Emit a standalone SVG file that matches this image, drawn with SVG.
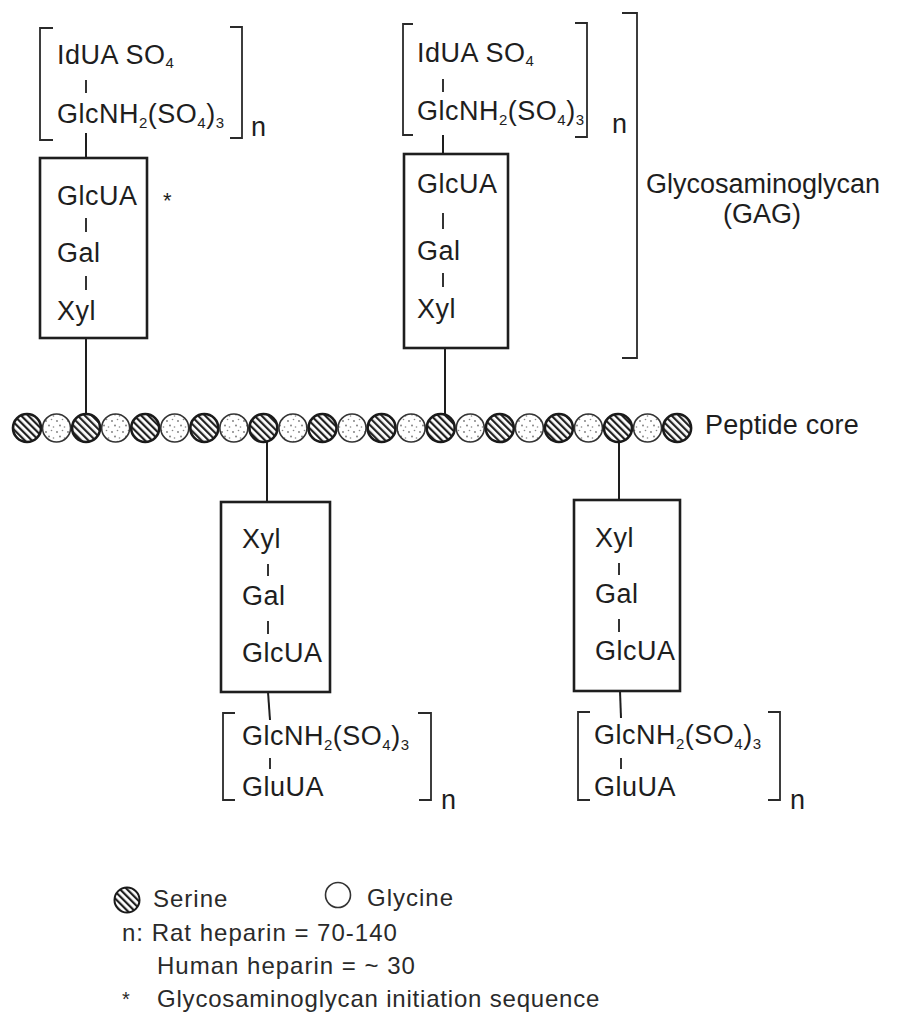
<svg xmlns="http://www.w3.org/2000/svg" width="901" height="1015" viewBox="0 0 901 1015">
<style>
  .t{font-family:"Liberation Sans",Arial,sans-serif;font-size:27px;letter-spacing:0.5px;fill:#1e1e1e}
  .lg{font-family:"Liberation Sans",Arial,sans-serif;font-size:24px;letter-spacing:1px;fill:#2a2a2a}
  .sub{font-size:15px}
  .ln{stroke:#1e1e1e;stroke-width:2;fill:none}
  .bond{stroke:#1e1e1e;stroke-width:1.8}
  .box{stroke:#1e1e1e;stroke-width:2.6;fill:none}
  .br{stroke:#2a2a2a;stroke-width:1.8;fill:none}
  .ser{fill:url(#hatch);stroke:#1a1a1a;stroke-width:2.6}
  .gly{fill:url(#dots);stroke:#333;stroke-width:1.6}
</style>
<defs>
  <pattern id="hatch" patternUnits="userSpaceOnUse" width="5" height="5" patternTransform="rotate(-45)">
    <rect width="5" height="5" fill="#fff"/>
    <rect width="2.2" height="5" fill="#222"/>
  </pattern>
  <pattern id="dots" patternUnits="userSpaceOnUse" width="11" height="11">
    <rect width="11" height="11" fill="#fff"/>
    <circle cx="2" cy="3" r="0.9" fill="#777"/>
    <circle cx="7.5" cy="1.5" r="0.8" fill="#888"/>
    <circle cx="5" cy="7.5" r="0.9" fill="#777"/>
    <circle cx="9.5" cy="9" r="0.8" fill="#888"/>
  </pattern>
</defs>

<!-- connectors -->
<g id="connectors">
  <line class="ln" x1="86" y1="338" x2="86" y2="414"/>
  <line class="ln" x1="445" y1="348" x2="445" y2="414"/>
  <line class="ln" x1="267" y1="442" x2="267" y2="502"/>
  <line class="ln" x1="619" y1="442" x2="619" y2="500"/>
  <line class="ln" x1="86" y1="133" x2="86" y2="158"/>
  <line class="ln" x1="443" y1="135" x2="443" y2="154"/>
  <line class="ln" x1="268" y1="692" x2="270" y2="720"/>
  <line class="ln" x1="620" y1="691" x2="621" y2="718"/>
</g>

<!-- top-left GAG chain -->
<g id="gag-top-left">
  <path class="br" d="M53,28 H40 V140 H53"/>
  <path class="br" d="M230,27 H242 V138 H230"/>
  <text class="t" x="251" y="136" style="letter-spacing:0">n</text>
  <text class="t" x="57" y="64">IdUA SO<tspan class="sub" dy="4">4</tspan></text>
  <line class="bond" x1="86" y1="80" x2="86" y2="93"/>
  <text class="t" x="57" y="123">GlcNH<tspan class="sub" dy="5">2</tspan><tspan dy="-5">(SO</tspan><tspan class="sub" dy="5">4</tspan><tspan dy="-5">)</tspan><tspan class="sub" dy="5">3</tspan></text>
  <rect class="box" x="40" y="158" width="107" height="180"/>
  <text class="t" x="57" y="205">GlcUA</text>
  <text class="t" x="163" y="208" style="font-size:22px">*</text>
  <line class="bond" x1="86" y1="218" x2="86" y2="232"/>
  <text class="t" x="57" y="262">Gal</text>
  <line class="bond" x1="86" y1="276" x2="86" y2="290"/>
  <text class="t" x="57" y="320">Xyl</text>
</g>

<!-- top-right GAG chain -->
<g id="gag-top-right">
  <path class="br" d="M413,24 H403 V135 H413"/>
  <path class="br" d="M575,23 H587 V137 H575"/>
  <text class="t" x="612" y="133" style="letter-spacing:0">n</text>
  <text class="t" x="417" y="62">IdUA SO<tspan class="sub" dy="4">4</tspan></text>
  <line class="bond" x1="443" y1="79" x2="443" y2="92"/>
  <text class="t" x="417" y="120">GlcNH<tspan class="sub" dy="5">2</tspan><tspan dy="-5">(SO</tspan><tspan class="sub" dy="5">4</tspan><tspan dy="-5">)</tspan><tspan class="sub" dy="5">3</tspan></text>
  <rect class="box" x="404" y="154" width="104" height="194"/>
  <text class="t" x="417" y="193">GlcUA</text>
  <line class="bond" x1="443" y1="213" x2="443" y2="229"/>
  <text class="t" x="417" y="260">Gal</text>
  <line class="bond" x1="443" y1="273" x2="443" y2="287"/>
  <text class="t" x="417" y="318">Xyl</text>
</g>

<!-- GAG label -->
<g id="gag-label">
  <path class="br" d="M622,13 H637 V358 H622"/>
  <text class="t" x="646" y="193" style="letter-spacing:0">Glycosaminoglycan</text>
  <text class="t" x="762" y="223" text-anchor="middle" style="letter-spacing:0">(GAG)</text>
</g>

<!-- peptide core -->
<g id="peptide-core">
  <circle class="ser" cx="27" cy="428" r="14"/>
  <circle class="gly" cx="56.55" cy="428" r="14"/>
  <circle class="ser" cx="86.1" cy="428" r="14"/>
  <circle class="gly" cx="115.65" cy="428" r="14"/>
  <circle class="ser" cx="145.2" cy="428" r="14"/>
  <circle class="gly" cx="174.75" cy="428" r="14"/>
  <circle class="ser" cx="204.3" cy="428" r="14"/>
  <circle class="gly" cx="233.85" cy="428" r="14"/>
  <circle class="ser" cx="263.4" cy="428" r="14"/>
  <circle class="gly" cx="292.95" cy="428" r="14"/>
  <circle class="ser" cx="322.5" cy="428" r="14"/>
  <circle class="gly" cx="352.05" cy="428" r="14"/>
  <circle class="ser" cx="381.6" cy="428" r="14"/>
  <circle class="gly" cx="411.15" cy="428" r="14"/>
  <circle class="ser" cx="440.7" cy="428" r="14"/>
  <circle class="gly" cx="470.25" cy="428" r="14"/>
  <circle class="ser" cx="499.8" cy="428" r="14"/>
  <circle class="gly" cx="529.35" cy="428" r="14"/>
  <circle class="ser" cx="558.9" cy="428" r="14"/>
  <circle class="gly" cx="588.45" cy="428" r="14"/>
  <circle class="ser" cx="618" cy="428" r="14"/>
  <circle class="gly" cx="647.55" cy="428" r="14"/>
  <circle class="ser" cx="677.1" cy="428" r="14"/>
  <text class="t" x="705" y="434" style="letter-spacing:0.2px">Peptide core</text>
</g>

<!-- bottom-left GAG chain -->
<g id="gag-bottom-left">
  <rect class="box" x="221" y="502" width="109" height="190"/>
  <text class="t" x="242" y="548">Xyl</text>
  <line class="bond" x1="268" y1="564" x2="268" y2="576"/>
  <text class="t" x="242" y="605">Gal</text>
  <line class="bond" x1="268" y1="621" x2="268" y2="634"/>
  <text class="t" x="242" y="662">GlcUA</text>
  <path class="br" d="M235,713 H223 V800 H235"/>
  <path class="br" d="M418,713 H431 V800 H419"/>
  <text class="t" x="242" y="745">GlcNH<tspan class="sub" dy="5">2</tspan><tspan dy="-5">(SO</tspan><tspan class="sub" dy="5">4</tspan><tspan dy="-5">)</tspan><tspan class="sub" dy="5">3</tspan></text>
  <line class="bond" x1="270" y1="758" x2="270" y2="769"/>
  <text class="t" x="242" y="796">GluUA</text>
  <text class="t" x="441" y="809" style="letter-spacing:0">n</text>
</g>

<!-- bottom-right GAG chain -->
<g id="gag-bottom-right">
  <rect class="box" x="574" y="500" width="106" height="191"/>
  <text class="t" x="595" y="547">Xyl</text>
  <line class="bond" x1="619" y1="563" x2="619" y2="575"/>
  <text class="t" x="595" y="603">Gal</text>
  <line class="bond" x1="619" y1="619" x2="619" y2="632"/>
  <text class="t" x="595" y="660">GlcUA</text>
  <path class="br" d="M590,712 H578 V800 H590"/>
  <path class="br" d="M768,712 H780 V800 H768"/>
  <text class="t" x="594" y="744">GlcNH<tspan class="sub" dy="5">2</tspan><tspan dy="-5">(SO</tspan><tspan class="sub" dy="5">4</tspan><tspan dy="-5">)</tspan><tspan class="sub" dy="5">3</tspan></text>
  <line class="bond" x1="621" y1="758" x2="621" y2="769"/>
  <text class="t" x="594" y="796">GluUA</text>
  <text class="t" x="790" y="809" style="letter-spacing:0">n</text>
</g>

<!-- legend -->
<g id="legend">
  <circle class="ser" cx="127" cy="900" r="12.5" style="stroke-width:2"/>
  <text class="lg" x="153" y="907">Serine</text>
  <circle cx="338" cy="895" r="12.5" fill="#fff" stroke="#333" stroke-width="1.6"/>
  <text class="lg" x="367" y="906">Glycine</text>
  <text class="lg" x="122" y="941">n: Rat heparin = 70-140</text>
  <text class="lg" x="157" y="974">Human heparin = ~ 30</text>
  <text class="lg" x="122" y="1006" style="font-size:20px">*</text>
  <text class="lg" x="157" y="1007" style="letter-spacing:0.8px">Glycosaminoglycan initiation sequence</text>
</g>
</svg>
